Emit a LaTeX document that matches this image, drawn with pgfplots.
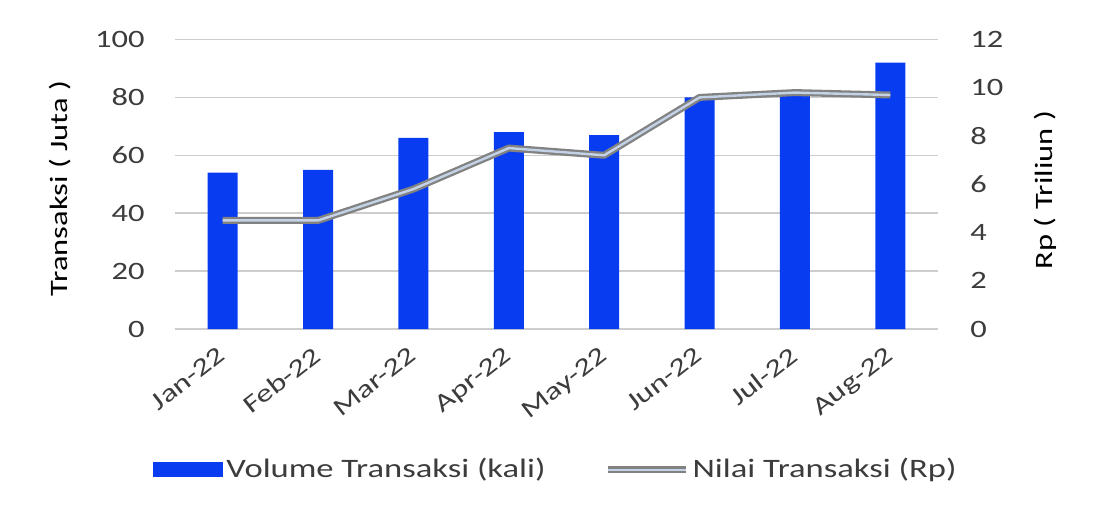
\documentclass[border=0pt]{standalone}
\usepackage{fontspec}
\setmainfont{Carlito}[FakeStretch=1.3]
\newfontfamily\lblfont{Carlito}[FakeStretch=1.12]
\usepackage{pgfplots}
\pgfplotsset{compat=1.18}
\definecolor{barblue}{RGB}{8,60,240}
\definecolor{txt}{RGB}{60,60,60}
\definecolor{gridc}{RGB}{205,205,205}
\definecolor{linegray}{RGB}{130,130,130}
\definecolor{lineglow}{RGB}{195,210,230}
\begin{document}
\fontsize{12.5}{15}\selectfont
\begin{tikzpicture}
\useasboundingbox (-87.5pt,-91pt) rectangle (462pt,164.5pt);
\pgfplotsset{
  common/.style={
    scale only axis, width=381.5pt, height=144.75pt,
    xmin=-0.5, xmax=7.5, ymin=0,
    axis line style={draw=none},
    major tick length=0pt,
    /pgf/number format/assume math mode=true,
    tick label style={font=\fontsize{12.5}{15}\selectfont, text=txt},
    label style={font=\lblfont\fontsize{12.5}{15}\selectfont, text=txt},
  }
}
\begin{axis}[common,
  ymax=100, ytick={0,20,...,100},
  xtick={0,...,7},
  xticklabels={Jan-22,Feb-22,Mar-22,Apr-22,May-22,Jun-22,Jul-22,Aug-22},
  xticklabel style={rotate=38, anchor=north east, inner sep=0pt, xshift=-7.2pt, yshift=-4.4pt},
  yticklabel style={anchor=east, inner sep=0pt, xshift=-15pt},
  ymajorgrids, grid style={gridc, line width=0.8pt},
  every axis y label/.style={at={(axis description cs:-0.1507,0.485)}, rotate=90, anchor=center},
  ylabel={Transaksi ( Juta )},
  legend style={at={(axis description cs:0.5,-0.487)}, anchor=center, draw=none, fill=none,
    legend columns=2, font=\fontsize{13.3}{15}\selectfont, text=txt,
    /tikz/every even column/.append style={column sep=28pt},
    nodes={inner sep=1.5pt}},
]
\addplot[ybar, bar width=15pt, fill=barblue, draw=none,
  legend image code/.code={\fill[barblue] (0pt,-3.75pt) rectangle (35pt,3.75pt);}]
  coordinates {(0,54) (1,55) (2,66) (3,68) (4,67) (5,80) (6,80.6) (7,92)};
\addlegendentry{Volume Transaksi (kali)}
\addlegendimage{legend image code/.code={\draw[linegray, line width=3.5pt] (0pt,0pt) -- (39pt,0pt); \draw[lineglow, line width=1.2pt] (0pt,0pt) -- (39pt,0pt);}}
\addlegendentry{Nilai Transaksi (Rp)}
\end{axis}
\begin{axis}[common,
  ymax=12, ytick={0,2,...,12},
  axis y line*=right, axis x line=none,
  yticklabel style={anchor=west, inner sep=0pt, xshift=16pt},
  every axis y label/.style={at={(axis description cs:1.1402,0.48)}, rotate=90, anchor=center},
  ylabel={Rp ( Triliun )},
]
\addplot[linegray, line width=3.5pt, line join=round, mark=none]
  coordinates {(0,4.5) (1,4.5) (2,5.8) (3,7.5) (4,7.2) (5,9.6) (6,9.8) (7,9.7)};
\addplot[lineglow, line width=1.2pt, line join=round, mark=none]
  coordinates {(0,4.5) (1,4.5) (2,5.8) (3,7.5) (4,7.2) (5,9.6) (6,9.8) (7,9.7)};
\end{axis}
\end{tikzpicture}
\end{document}
